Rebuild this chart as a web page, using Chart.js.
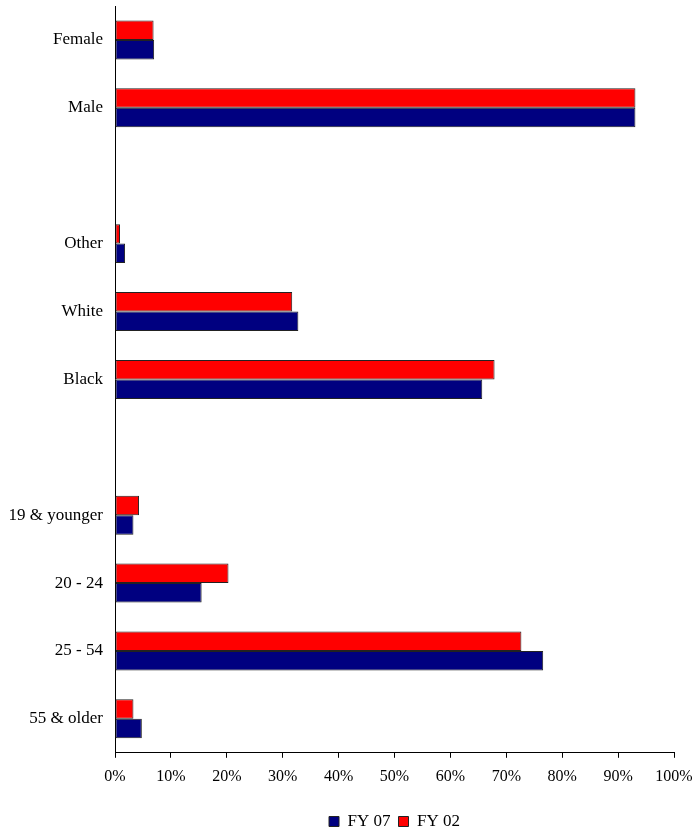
<!DOCTYPE html>
<html>
<head>
<meta charset="utf-8">
<script src="https://cdn.jsdelivr.net/npm/chart.js@4"></script>
<style>
    html, body { margin: 0; padding: 0; background: #fff; }
    #wrap { width: 697px; height: 832px; }
</style>
</head>
<body>
<div id="wrap"><canvas id="chart"></canvas></div>
<script>
// categories top to bottom, blank entries are the gaps between groups
const categories = ['Female', 'Male', '', 'Other', 'White', 'Black', '', '19 & younger', '20 - 24', '25 - 54', '55 & older'];
const fy07 = [7.0, 93.1, null, 1.8, 32.8, 65.7, null, 3.3, 15.5, 76.6, 4.8];
const fy02 = [6.9, 93.1, null, 0.9, 31.7, 67.9, null, 4.3, 20.3, 72.7, 3.3];
const xTicks = [0, 10, 20, 30, 40, 50, 60, 70, 80, 90, 100];

const serif = '"Liberation Serif", "Times New Roman", serif';

const ctx = document.getElementById('chart').getContext('2d');
const chart = new Chart(ctx, {
    type: 'bar',
    data: {
        labels: categories,
        datasets: [
            {
                label: 'FY 02',
                data: fy02,
                backgroundColor: '#ff0000',
                borderColor: '#222',
                borderWidth: 1,
                borderSkipped: false
            },
            {
                label: 'FY 07',
                data: fy07,
                backgroundColor: '#000080',
                borderColor: '#222',
                borderWidth: 1,
                borderSkipped: false
            }
        ]
    },
    options: {
        indexAxis: 'y',
        responsive: true,
        maintainAspectRatio: false,
        animation: false,
        datasets: {
            bar: {
                categoryPercentage: 0.574,
                barPercentage: 1.0
            }
        },
        layout: {
            padding: { top: 6, right: 23, left: 0, bottom: -8 }
        },
        plugins: {
            legend: {
                display: true,
                position: 'bottom',
                fullSize: false,
                reverse: true,
                labels: {
                    boxWidth: 10,
                    boxHeight: 10,
                    padding: 8,
                    color: '#000',
                    font: { family: serif, size: 17 }
                }
            },
            tooltip: { enabled: false }
        },
        scales: {
            x: {
                min: 0,
                max: 100,
                afterBuildTicks: axis => {
                    axis.ticks = xTicks.map(v => ({ value: v }));
                },
                afterFit: scale => {
                    scale.paddingLeft = 0;
                    scale.paddingRight = 0;
                    scale.height += 10;
                },
                grid: {
                    display: true,
                    drawOnChartArea: false,
                    drawTicks: true,
                    tickLength: 5,
                    color: '#000'
                },
                border: { display: true, color: '#000', width: 1 },
                ticks: {
                    color: '#000',
                    padding: 9,
                    maxRotation: 0,
                    font: { family: serif, size: 16 },
                    callback: v => v + '%'
                }
            },
            y: {
                afterFit: scale => {
                    scale.width = 115;
                    scale.paddingTop = 0;
                    scale.paddingBottom = 0;
                },
                grid: { display: false, drawTicks: false },
                border: { display: true, color: '#000', width: 1 },
                ticks: {
                    color: '#000',
                    padding: 12,
                    autoSkip: false,
                    font: { family: serif, size: 17 }
                }
            }
        }
    }
});
</script>
</body>
</html>
